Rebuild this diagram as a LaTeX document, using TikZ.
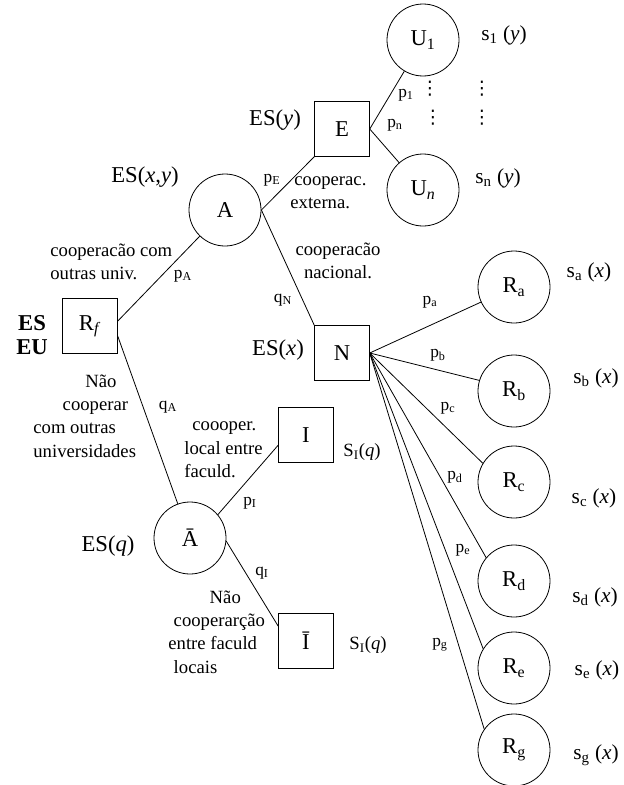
\documentclass[tikz,border=0pt]{standalone}
\usepackage{fontspec}
\setmainfont{Liberation Serif}
\newfontfamily\dotsfont{DejaVu Sans}
\usepackage{tikz}

\begin{document}
\begin{tikzpicture}[x=0.75pt,y=-0.75pt,line width=0.6pt,
  chance/.style={draw,circle,minimum size=54pt,inner sep=0pt,font=\fontsize{17}{20}\selectfont},
  decis/.style={draw,rectangle,minimum size=41pt,inner sep=0pt,font=\fontsize{17}{20}\selectfont},
  big/.style={font=\fontsize{17}{20}\selectfont,inner sep=0pt},
  small/.style={font=\fontsize{14}{17.5}\selectfont,inner sep=0pt},
  prob/.style={font=\fontsize{13}{15}\selectfont,inner sep=0pt},
  pay/.style={font=\fontsize{16}{19}\selectfont,inner sep=0pt},
  vdot/.style={font=\dotsfont\fontsize{14}{15}\selectfont,inner sep=0pt}]
\useasboundingbox (0,0) rectangle (624,785);

% decision and chance nodes
\node[decis] (Rf) at (90,326) {R\textsubscript{\textit{f}}};
\node[chance] (A) at (225,210) {A};
\node[chance] (Abar) at (190,538) {Ā};
\node[decis] (E) at (342,129) {E};
\node[decis] (N) at (342,353) {N};
\node[decis] (I) at (306,435) {I};
\node[decis] (Ibar) at (306,641) {Ī};
\node[chance] (U1) at (423,40) {U\textsubscript{1}};
\node[chance] (Un) at (423,190) {U\textsubscript{\textit{n}}};
\node[chance] (Ra) at (514,287) {R\textsubscript{a}};
\node[chance] (Rb) at (514,391) {R\textsubscript{b}};
\node[chance] (Rc) at (514,482) {R\textsubscript{c}};
\node[chance] (Rd) at (514,581) {R\textsubscript{d}};
\node[chance] (Re) at (514,668) {R\textsubscript{e}};
\node[chance] (Rg) at (514,750) {R\textsubscript{g}};

% branches
\draw (Rf.10) -- (A);
\draw (Rf.-20) -- (Abar);
\draw (A.east) -- (E.south west);
\draw (A.east) -- (N.north west);
\draw (E.east) -- (U1);
\draw (E.east) -- (Un);
\draw (N.east) -- (Ra);
\draw (N.east) -- (Rb.163);
\draw (N.east) -- (Rc.149);
\draw (N.east) -- (Rd.140);
\draw (N.east) -- (Re.148);
\draw (N.east) -- (Rg.145);
\draw (Abar.40) -- (I.200);
\draw (Abar.-5) -- (Ibar.152);

% expected values
\node[big,align=center,font=\fontsize{17}{18}\selectfont\bfseries] (esEU) at (32,335) {ES\\EU};
\node[big] (esA) at (145,177) {ES(\textit{x},\textit{y})};
\node[big] (esE) at (275,120) {ES(\textit{y})};
\node[big] (esN) at (278,350) {ES(\textit{x})};
\node[big] (esAbar) at (108,546) {ES(\textit{q})};

% branch texts
\node[small,align=left,anchor=west] (tA) at (50,262) {cooperacão com\\outras univ.};
\node[small,align=left,anchor=west] (tE) at (290,193) {\hspace*{3pt}cooperac.\\externa.};
\node[small,align=center] (tN) at (338,261) {cooperacão\\nacional.};
\node[small,align=left,anchor=west] (tAbar) at (33,416) {\hspace*{39pt}Não\\\hspace*{22pt}cooperar\\com outras\\universidades};
\node[small,align=left,anchor=west] (tI) at (184,450) {\hspace*{6pt}coooper.\\local entre\\faculd.};
\node[small,align=left,anchor=west] (tIbar) at (168,632) {\hspace*{31pt}Não\\\hspace*{4pt}cooperarção\\entre faculd\\\hspace*{4pt}locais};

% probabilities
\node[prob] (pA) at (183,276) {p\textsubscript{A}};
\node[prob] (pE) at (272,180) {p\textsubscript{E}};
\node[prob] (qN) at (283,300) {q\textsubscript{N}};
\node[prob] (p1) at (406,95) {p\textsubscript{1}};
\node[prob] (pn) at (395,125) {p\textsubscript{n}};
\node[prob] (qA) at (168,407) {q\textsubscript{A}};
\node[prob] (pI) at (250,503) {p\textsubscript{I}};
\node[prob] (qI) at (262,573) {q\textsubscript{I}};
\node[prob] (pa) at (430,302) {p\textsubscript{a}};
\node[prob] (pb) at (438,355) {p\textsubscript{b}};
\node[prob] (pc) at (448,408) {p\textsubscript{c}};
\node[prob] (pd) at (455,477) {p\textsubscript{d}};
\node[prob] (pe) at (463,550) {p\textsubscript{e}};
\node[prob] (pg) at (440,645) {p\textsubscript{g}};

% dots between U1 and Un
\node[vdot] (d1) at (430,89) {⋮};
\node[vdot] (d2) at (433,118) {⋮};
\node[vdot] (d3) at (482,89) {⋮};
\node[vdot] (d4) at (482,118) {⋮};

% payoffs
\node[pay] (s1) at (504,35) {s\textsubscript{1} (\textit{y})};
\node[pay] (sn) at (498,178) {s\textsubscript{n} (\textit{y})};
\node[pay] (sa) at (589,272) {s\textsubscript{a} (\textit{x})};
\node[pay] (sb) at (596,378) {s\textsubscript{b} (\textit{x})};
\node[pay] (sc) at (594,498) {s\textsubscript{c} (\textit{x})};
\node[pay] (sd) at (595,597) {s\textsubscript{d} (\textit{x})};
\node[pay] (se) at (597,670) {s\textsubscript{e} (\textit{x})};
\node[pay] (sg) at (596,755) {s\textsubscript{g} (\textit{x})};
\node[prob,font=\fontsize{14}{16}\selectfont] (sI) at (362,452) {S\textsubscript{I}(\textit{q})};
\node[prob,font=\fontsize{14}{16}\selectfont] (sIbar) at (368,645) {S\textsubscript{I}(\textit{q})};
\end{tikzpicture}
\end{document}
